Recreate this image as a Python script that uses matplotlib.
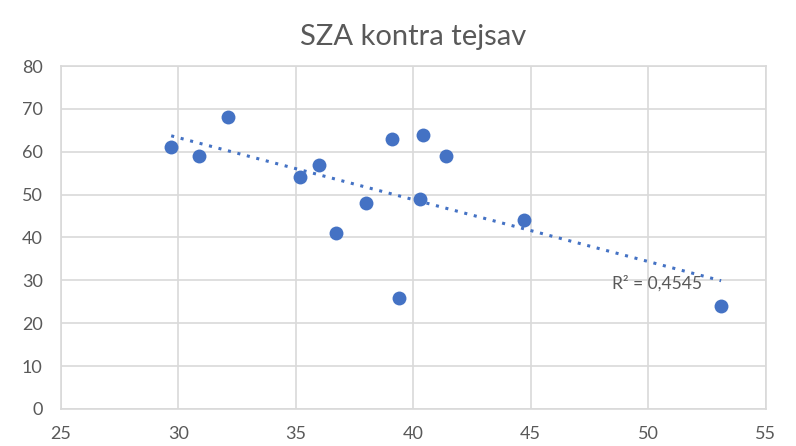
import numpy as np
import matplotlib
matplotlib.use("Agg")
import matplotlib.pyplot as plt

plt.rcParams['font.family'] = ['Lato', 'DejaVu Sans']

x_tejsav = [29.7, 30.9, 32.1, 35.2, 36.0, 36.7, 38.0, 39.1, 39.4, 40.3, 40.4, 41.4, 44.7, 53.1]
y_sza = [61, 59, 68, 54, 57, 41, 48, 63, 26, 49, 64, 59, 44, 24]
title = "SZA kontra tejsav"
r2_label = "R² = 0,4545"
x_ticks = [25, 30, 35, 40, 45, 50, 55]
y_ticks = [0, 10, 20, 30, 40, 50, 60, 70, 80]

blue = "#4472C4"
text_col = "#595959"
grid_col = "#D9D9D9"

fig = plt.figure(figsize=(7.96, 4.46), dpi=100)
ax = fig.add_axes([0.0763, 0.083, 0.8857, 0.769])

xs = np.array(x_tejsav)
ys = np.array(y_sza)
m, b = np.polyfit(xs, ys, 1)
xl = np.array([xs.min(), xs.max()])
ax.plot(xl, m * xl + b, linestyle=(0, (1, 2.2)), color=blue, linewidth=2.2, zorder=2)
ax.scatter(xs, ys, s=100, color=blue, zorder=3, linewidths=0)

ax.set_xlim(25, 55)
ax.set_ylim(0, 80)
ax.set_xticks(x_ticks)
ax.set_yticks(y_ticks)
ax.grid(True, color=grid_col, linewidth=1.2)
ax.set_axisbelow(True)
for s in ax.spines.values():
    s.set_color(grid_col)
    s.set_linewidth(1.2)
ax.tick_params(length=0, labelsize=13, labelcolor=text_col)
ax.tick_params(axis='y', pad=13)
ax.tick_params(axis='x', pad=12)

ax.text(48.45, 29.4, r2_label, fontsize=12.5, color=text_col, ha='left', va='center', zorder=4)

fig.text(0.519, 0.918, title, fontsize=21, color=text_col, ha='center', va='center')

fig.savefig("out.png", dpi=100)
